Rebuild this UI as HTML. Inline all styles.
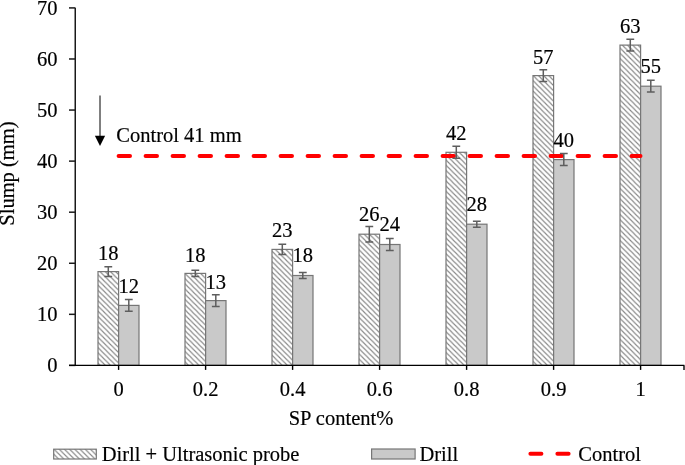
<!DOCTYPE html>
<html><head><meta charset="utf-8"><style>
html,body{margin:0;padding:0;background:#fff;}
body{width:685px;height:465px;overflow:hidden;}
svg{display:block;will-change:transform;}
text{font-family:"Liberation Serif",serif;font-size:20.5px;fill:#000;stroke:#000;stroke-width:0.18px;}
</style></head><body>
<svg width="685" height="465" viewBox="0 0 685 465">
<defs>
<pattern id="hatch" patternUnits="userSpaceOnUse" width="5.2" height="5.2">
<rect width="5.2" height="5.2" fill="#fff"/>
<path d="M-1,-1 L6.2,6.2 M-1,4.2 L1,6.2 M4.2,-1 L6.2,1" stroke="#858585" stroke-width="1.1"/>
</pattern>
</defs>
<rect width="685" height="465" fill="#fff"/>

<rect x="98.00" y="271.60" width="20.60" height="93.80" fill="url(#hatch)" stroke="#767676" stroke-width="1.2"/>
<rect x="118.60" y="305.40" width="20.40" height="60.00" fill="#c9c9c9" stroke="#767676" stroke-width="1.2"/>
<rect x="185.00" y="273.40" width="20.60" height="92.00" fill="url(#hatch)" stroke="#767676" stroke-width="1.2"/>
<rect x="205.60" y="300.60" width="20.40" height="64.80" fill="#c9c9c9" stroke="#767676" stroke-width="1.2"/>
<rect x="272.00" y="249.40" width="20.60" height="116.00" fill="url(#hatch)" stroke="#767676" stroke-width="1.2"/>
<rect x="292.60" y="275.50" width="20.40" height="89.90" fill="#c9c9c9" stroke="#767676" stroke-width="1.2"/>
<rect x="359.00" y="234.20" width="20.60" height="131.20" fill="url(#hatch)" stroke="#767676" stroke-width="1.2"/>
<rect x="379.60" y="244.50" width="20.40" height="120.90" fill="#c9c9c9" stroke="#767676" stroke-width="1.2"/>
<rect x="446.00" y="152.30" width="20.60" height="213.10" fill="url(#hatch)" stroke="#767676" stroke-width="1.2"/>
<rect x="466.60" y="224.20" width="20.40" height="141.20" fill="#c9c9c9" stroke="#767676" stroke-width="1.2"/>
<rect x="533.00" y="75.60" width="20.60" height="289.80" fill="url(#hatch)" stroke="#767676" stroke-width="1.2"/>
<rect x="553.60" y="159.60" width="20.40" height="205.80" fill="#c9c9c9" stroke="#767676" stroke-width="1.2"/>
<rect x="620.00" y="45.10" width="20.60" height="320.30" fill="url(#hatch)" stroke="#767676" stroke-width="1.2"/>
<rect x="640.60" y="86.20" width="20.40" height="279.20" fill="#c9c9c9" stroke="#767676" stroke-width="1.2"/>
<line x1="118.6" y1="156" x2="640.5" y2="156" stroke="#ff0000" stroke-width="4" stroke-linecap="round" stroke-dasharray="11.4 15.6"/>
<path d="M108.30,266.65 V276.55 M104.40,266.65 H112.20 M104.40,276.55 H112.20" stroke="#5e5e5e" stroke-width="1.5" fill="none"/>
<text x="108.30" y="259.50" text-anchor="middle">18</text>
<path d="M128.80,299.50 V311.30 M124.90,299.50 H132.70 M124.90,311.30 H132.70" stroke="#5e5e5e" stroke-width="1.5" fill="none"/>
<text x="128.80" y="293.00" text-anchor="middle">12</text>
<path d="M195.30,270.25 V276.55 M191.40,270.25 H199.20 M191.40,276.55 H199.20" stroke="#5e5e5e" stroke-width="1.5" fill="none"/>
<text x="195.30" y="261.50" text-anchor="middle">18</text>
<path d="M215.80,294.70 V306.50 M211.90,294.70 H219.70 M211.90,306.50 H219.70" stroke="#5e5e5e" stroke-width="1.5" fill="none"/>
<text x="215.80" y="288.50" text-anchor="middle">13</text>
<path d="M282.30,244.30 V254.50 M278.40,244.30 H286.20 M278.40,254.50 H286.20" stroke="#5e5e5e" stroke-width="1.5" fill="none"/>
<text x="282.30" y="237.10" text-anchor="middle">23</text>
<path d="M302.80,272.50 V278.50 M298.90,272.50 H306.70 M298.90,278.50 H306.70" stroke="#5e5e5e" stroke-width="1.5" fill="none"/>
<text x="302.80" y="262.30" text-anchor="middle">18</text>
<path d="M369.30,226.50 V241.90 M365.40,226.50 H373.20 M365.40,241.90 H373.20" stroke="#5e5e5e" stroke-width="1.5" fill="none"/>
<text x="369.30" y="221.00" text-anchor="middle">26</text>
<path d="M389.80,238.60 V250.40 M385.90,238.60 H393.70 M385.90,250.40 H393.70" stroke="#5e5e5e" stroke-width="1.5" fill="none"/>
<text x="389.80" y="231.30" text-anchor="middle">24</text>
<path d="M456.30,146.30 V158.30 M452.40,146.30 H460.20 M452.40,158.30 H460.20" stroke="#5e5e5e" stroke-width="1.5" fill="none"/>
<text x="456.30" y="140.00" text-anchor="middle">42</text>
<path d="M476.80,221.20 V227.20 M472.90,221.20 H480.70 M472.90,227.20 H480.70" stroke="#5e5e5e" stroke-width="1.5" fill="none"/>
<text x="476.80" y="211.00" text-anchor="middle">28</text>
<path d="M543.30,69.80 V81.40 M539.40,69.80 H547.20 M539.40,81.40 H547.20" stroke="#5e5e5e" stroke-width="1.5" fill="none"/>
<text x="543.30" y="63.70" text-anchor="middle">57</text>
<path d="M563.80,153.60 V165.60 M559.90,153.60 H567.70 M559.90,165.60 H567.70" stroke="#5e5e5e" stroke-width="1.5" fill="none"/>
<text x="563.80" y="146.60" text-anchor="middle">40</text>
<path d="M630.30,39.20 V51.00 M626.40,39.20 H634.20 M626.40,51.00 H634.20" stroke="#5e5e5e" stroke-width="1.5" fill="none"/>
<text x="630.30" y="33.10" text-anchor="middle">63</text>
<path d="M650.80,80.35 V92.05 M646.90,80.35 H654.70 M646.90,92.05 H654.70" stroke="#5e5e5e" stroke-width="1.5" fill="none"/>
<text x="650.80" y="73.40" text-anchor="middle">55</text>
<path d="M75.25,7.9 V365.4" stroke="#1a1a1a" stroke-width="1.5" fill="none"/>
<path d="M69,365.40 H75.5" stroke="#1a1a1a" stroke-width="1.5"/>
<text x="57.5" y="372.00" text-anchor="end">0</text>
<path d="M69,314.33 H75.5" stroke="#1a1a1a" stroke-width="1.5"/>
<text x="57.5" y="320.93" text-anchor="end">10</text>
<path d="M69,263.26 H75.5" stroke="#1a1a1a" stroke-width="1.5"/>
<text x="57.5" y="269.86" text-anchor="end">20</text>
<path d="M69,212.19 H75.5" stroke="#1a1a1a" stroke-width="1.5"/>
<text x="57.5" y="218.79" text-anchor="end">30</text>
<path d="M69,161.12 H75.5" stroke="#1a1a1a" stroke-width="1.5"/>
<text x="57.5" y="167.72" text-anchor="end">40</text>
<path d="M69,110.05 H75.5" stroke="#1a1a1a" stroke-width="1.5"/>
<text x="57.5" y="116.65" text-anchor="end">50</text>
<path d="M69,58.98 H75.5" stroke="#1a1a1a" stroke-width="1.5"/>
<text x="57.5" y="65.58" text-anchor="end">60</text>
<path d="M69,7.91 H75.5" stroke="#1a1a1a" stroke-width="1.5"/>
<text x="57.5" y="14.51" text-anchor="end">70</text>
<path d="M69,365.4 H684.4" stroke="#000" stroke-width="1.4" fill="none"/>
<path d="M118.60,365.4 V369.9" stroke="#000" stroke-width="1.4"/>
<text x="118.60" y="396" text-anchor="middle">0</text>
<path d="M205.60,365.4 V369.9" stroke="#000" stroke-width="1.4"/>
<text x="205.60" y="396" text-anchor="middle">0.2</text>
<path d="M292.60,365.4 V369.9" stroke="#000" stroke-width="1.4"/>
<text x="292.60" y="396" text-anchor="middle">0.4</text>
<path d="M379.60,365.4 V369.9" stroke="#000" stroke-width="1.4"/>
<text x="379.60" y="396" text-anchor="middle">0.6</text>
<path d="M466.60,365.4 V369.9" stroke="#000" stroke-width="1.4"/>
<text x="466.60" y="396" text-anchor="middle">0.8</text>
<path d="M553.60,365.4 V369.9" stroke="#000" stroke-width="1.4"/>
<text x="553.60" y="396" text-anchor="middle">0.9</text>
<path d="M640.60,365.4 V369.9" stroke="#000" stroke-width="1.4"/>
<text x="640.60" y="396" text-anchor="middle">1</text>
<path d="M684,365.4 V369.9" stroke="#000" stroke-width="1.4"/>
<text x="341" y="424.6" text-anchor="middle">SP content%</text>
<text transform="translate(14.4,173.6) rotate(-90)" text-anchor="middle">Slump (mm)</text>
<path d="M100,95.5 V137" stroke="#000" stroke-width="1"/>
<path d="M94.9,135.8 L105.1,135.8 L100,146.1 Z" fill="#000"/>
<text x="116.3" y="142.3">Control 41 mm</text>
<rect x="53.7" y="449.2" width="42.6" height="9.8" fill="url(#hatch)" stroke="#767676" stroke-width="1.2"/>
<text x="101.7" y="460.5">Dirll + Ultrasonic probe</text>
<rect x="371.6" y="449" width="43.5" height="10" fill="#c9c9c9" stroke="#767676" stroke-width="1.2"/>
<text x="419.4" y="460.7">Drill</text>
<path d="M530.4,453.8 H541.4 M557.4,453.8 H568.6" stroke="#ff0000" stroke-width="4" stroke-linecap="round"/>
<text x="578.3" y="460.8">Control</text>
</svg></body></html>
